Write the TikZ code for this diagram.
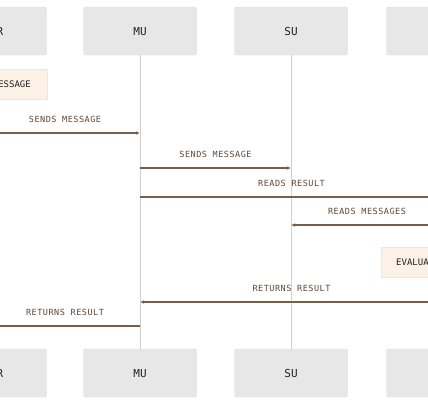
\documentclass[tikz,border=0pt]{standalone}
\usepackage{fontspec}
\setmonofont{DejaVu Sans Mono}
\newfontfamily\labfont{DejaVu Sans Mono}[LetterSpace=6]
\usetikzlibrary{arrows.meta}

\definecolor{boxfill}{HTML}{E7E7E7}
\definecolor{boxline}{HTML}{DCDCDC}
\definecolor{ink}{HTML}{222222}
\definecolor{lifeline}{HTML}{D0D0D0}
\definecolor{arrowc}{HTML}{765E4C}
\definecolor{labc}{HTML}{5C4838}
\definecolor{notefill}{HTML}{FCF1E6}
\definecolor{noteline}{HTML}{F2E4D6}

\begin{document}
\begin{tikzpicture}[x=1pt,y=-1pt,
actor/.style={draw=boxline,fill=boxfill,rounded corners=2pt,minimum width=113pt,minimum height=48pt,text height=8pt,text depth=0pt,font=\ttfamily\fontsize{11}{13}\selectfont,text=ink},
life/.style={draw=lifeline,line width=1pt},
msg/.style={-{Latex[length=4pt,width=3.5pt]},draw=arrowc,line width=1.2pt},
lab/.style={font=\labfont\fontsize{8.5}{10}\selectfont,text=labc,above=6pt},
note/.style={draw=noteline,fill=notefill,minimum height=30pt,text height=6.5pt,text depth=0pt,font=\ttfamily\fontsize{9}{11}\selectfont,text=ink}]
\useasboundingbox (0,0) rectangle (428,400);
\clip (0,0) rectangle (428,400);
% participants, top and bottom
\node[actor] (user) at (-10,31) {USER};
\node[actor] (mu) at (140,31) {MU};
\node[actor] (su) at (291,31) {SU};
\node[actor] (llm) at (443,31) {};
\node[actor] (user2) at (-10,373) {USER};
\node[actor] (mu2) at (140,373) {MU};
\node[actor] (su2) at (291,373) {SU};
\node[actor] (llm2) at (443,373) {};
% lifelines
\draw[life] (user) -- (user2);
\draw[life] (mu) -- (mu2);
\draw[life] (su) -- (su2);
\draw[life] (llm) -- (llm2);
% notes
\node[note,anchor=east,inner xsep=16pt] (compose) at (47,84) {MESSAGE};
\node[note,anchor=west,inner xsep=15pt] (evaluate) at (381,262) {EVALUATE};
% messages
\draw[msg] (user |- 0,133) -- node[lab] {SENDS MESSAGE} (mu |- 0,133);
\draw[msg] (mu |- 0,168) -- node[lab] {SENDS MESSAGE} (su |- 0,168);
\draw[msg] (mu |- 0,197) -- node[lab] {READS RESULT} (llm |- 0,197);
\draw[msg] (llm |- 0,225) -- node[lab] {READS MESSAGES} (su |- 0,225);
\draw[msg] (llm |- 0,302) -- node[lab] {RETURNS RESULT} (mu |- 0,302);
\draw[msg] (mu |- 0,326) -- node[lab] {RETURNS RESULT} (user |- 0,326);
\end{tikzpicture}
\end{document}
